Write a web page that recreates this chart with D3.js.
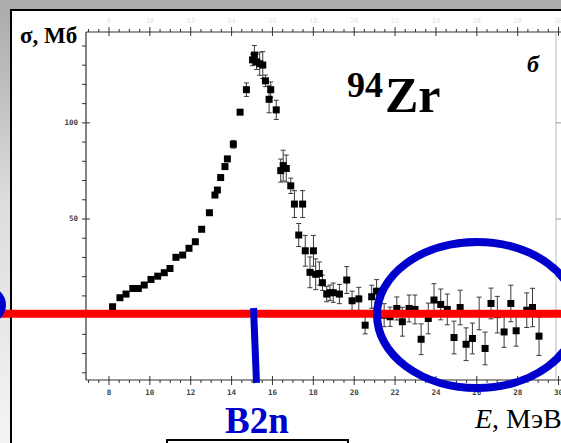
<!DOCTYPE html>
<html>
<head>
<meta charset="utf-8">
<script src="https://cdn.jsdelivr.net/npm/d3@7"></script>
<style>
  html, body { margin: 0; padding: 0; }
  body { width: 561px; height: 443px; overflow: hidden; }
  svg { display: block; }
</style>
</head>
<body>
<svg id="chart" width="561" height="443"></svg>
<script>
// Photoneutron cross section, 94Zr: energy (MeV), sigma (mb), error (mb)
const energy = [
  8.20, 8.56, 8.86, 9.19, 9.46, 9.75, 10.08, 10.41, 10.73, 11.01,
  11.30, 11.63, 11.94, 12.25, 12.56, 12.94, 13.21, 13.33, 13.49, 13.70,
  13.82, 14.11, 14.44, 14.75, 15.05, 15.14, 15.25, 15.40, 15.55, 15.68,
  15.86, 15.94, 16.21, 16.43, 16.55, 16.70, 16.92, 17.10, 17.31, 17.50,
  17.63, 17.86, 18.03, 18.14, 18.32, 18.47, 18.68, 18.84, 19.00, 19.30,
  19.66, 19.92, 20.25, 20.56, 20.88, 21.12, 21.49, 21.78, 22.11, 22.38,
  22.71, 23.00, 23.30, 23.65, 23.93, 24.26, 24.58, 24.91, 25.21, 25.50,
  25.81, 26.14, 26.43, 26.72, 27.03, 27.36, 27.69, 27.95, 28.47, 28.75,
  29.07
];
const sigma = [
  4.1, 8.8, 10.7, 13.6, 13.6, 15.4, 18.3, 20.0, 21.8, 24.0,
  29.8, 31.0, 34.5, 37.9, 44.4, 53.0, 62.2, 64.8, 71.3, 77.0,
  81.0, 88.6, 105.3, 117.0, 132.5, 135.0, 131.5, 130.5, 129.8, 121.6,
  112.0, 117.0, 106.5, 74.9, 77.5, 76.0, 67.0, 57.5, 41.4, 57.5,
  33.2, 22.0, 33.2, 21.0, 21.4, 16.6, 10.7, 11.4, 11.4, 10.7,
  18.0, 7.2, 8.2, -5.5, 9.3, 12.2, -0.3, -1.1, 3.2, -3.7,
  3.2, 2.7, -12.8, -2.0, 7.6, 5.3, 2.7, -11.9, 3.7, -15.4,
  -12.4, 0.6, -17.6, 5.8, 0.0, -9.0, 5.8, -8.4, 2.3, 3.7,
  -11.2
];
const sigmaErr = [
  0, 0, 0, 0, 0, 0, 0, 0, 0, 0,
  0, 0, 0, 0, 0, 1, 0, 0, 0, 1,
  1, 2, 1, 3.5, 3, 5, 4, 6, 7, 3,
  7, 4, 5, 6, 8, 7, 4, 7, 6, 7,
  8, 8, 8, 8, 6, 4, 4, 4, 5, 5,
  7, 5, 6, 4.5, 6, 6, 6, 5, 6, 7.5,
  7, 7.5, 8, 8, 8.5, 8, 8, 8.5, 9, 8.5,
  8, 8.5, 8.5, 8, 9.5, 8, 9.5, 8, 9, 10,
  10
];
const xTickValues = [8, 10, 12, 14, 16, 18, 20, 22, 24, 26, 28, 30];
const yTickValues = [50, 100];

const svg = d3.select("#chart");
const W = 561, H = 443;

// page background: grey frame with a white panel
const defs = svg.append("defs");
const grad = defs.append("linearGradient").attr("id", "bg")
  .attr("x1", 0).attr("y1", 0).attr("x2", 0).attr("y2", 1);
grad.append("stop").attr("offset", "0%").attr("stop-color", "#a9a9a9");
grad.append("stop").attr("offset", "45%").attr("stop-color", "#dcdcdc");
grad.append("stop").attr("offset", "100%").attr("stop-color", "#f4f4f4");
svg.append("rect").attr("width", W).attr("height", H).attr("fill", "url(#bg)");
svg.append("rect").attr("x", 0).attr("y", 0).attr("width", W).attr("height", 10).attr("fill", "#acacac");
svg.append("rect").attr("x", 11).attr("y", 10).attr("width", W).attr("height", H)
  .attr("fill", "#fff").attr("stroke", "#000").attr("stroke-width", 2);

// plot area
const pLeft = 86, pRight = 556, pTop = 32, pBottom = 380;
const x = d3.scaleLinear().domain([6.9, 29.9]).range([pLeft, pRight]);
const y = d3.scaleLinear().domain([-34, 147]).range([pBottom, pTop]);

const axisColor = "#333";
const g = svg.append("g");

// frame lines
g.append("line").attr("x1", pLeft).attr("x2", pLeft).attr("y1", pTop).attr("y2", pBottom)
  .attr("stroke", axisColor).attr("stroke-width", 1.2);
g.append("line").attr("x1", pLeft).attr("x2", W).attr("y1", pBottom).attr("y2", pBottom)
  .attr("stroke", axisColor).attr("stroke-width", 1.2);
g.append("line").attr("x1", pLeft).attr("x2", W).attr("y1", pTop).attr("y2", pTop)
  .attr("stroke", axisColor).attr("stroke-width", 1.2);
g.append("line").attr("x1", pRight).attr("x2", pRight).attr("y1", pTop).attr("y2", pBottom)
  .attr("stroke", "#bbb").attr("stroke-width", 1);

// bottom axis
const minorX = d3.range(7, 30.01, 0.5).filter(v => !xTickValues.includes(v));
const bAx = g.append("g").attr("transform", `translate(0,${pBottom})`)
  .call(d3.axisBottom(x).tickValues(xTickValues).tickSize(5).tickPadding(5).tickFormat(d3.format("d")));
bAx.select(".domain").remove();
bAx.selectAll(".tick line").attr("y1", -4).attr("stroke", axisColor);
bAx.selectAll(".tick text").attr("font-family", "DejaVu Sans Mono, monospace")
  .attr("font-size", 7.5).attr("fill", "#444").attr("font-weight", "bold");
const bMin = g.append("g").attr("transform", `translate(0,${pBottom})`)
  .call(d3.axisBottom(x).tickValues(minorX).tickSize(3).tickFormat(""));
bMin.select(".domain").remove();
bMin.selectAll(".tick line").attr("stroke", axisColor);

// top axis
const tAx = g.append("g").attr("transform", `translate(0,${pTop})`)
  .call(d3.axisTop(x).tickValues(xTickValues).tickSize(5).tickPadding(4).tickFormat(d3.format("d")));
tAx.select(".domain").remove();
tAx.selectAll(".tick line").attr("y1", 4).attr("stroke", axisColor);
tAx.selectAll(".tick text").attr("font-family", "DejaVu Sans Mono, monospace")
  .attr("font-size", 7).attr("fill", "#e2e2e2");
const tMin = g.append("g").attr("transform", `translate(0,${pTop})`)
  .call(d3.axisTop(x).tickValues(minorX).tickSize(3).tickFormat(""));
tMin.select(".domain").remove();
tMin.selectAll(".tick line").attr("stroke", axisColor);

// left axis
const minorY = d3.range(-30, 141, 10).filter(v => !yTickValues.includes(v));
const lAx = g.append("g").attr("transform", `translate(${pLeft},0)`)
  .call(d3.axisLeft(y).tickValues(yTickValues).tickSize(4).tickPadding(4).tickFormat(d3.format("d")));
lAx.select(".domain").remove();
lAx.selectAll(".tick line").attr("x1", 4).attr("stroke", axisColor);
lAx.selectAll(".tick text").attr("font-family", "DejaVu Sans Mono, monospace")
  .attr("font-size", 7.5).attr("fill", "#444").attr("font-weight", "bold");
const lMin = g.append("g").attr("transform", `translate(${pLeft},0)`)
  .call(d3.axisLeft(y).tickValues(minorY).tickSize(4).tickFormat(""));
lMin.select(".domain").remove();
lMin.selectAll(".tick line").attr("stroke", axisColor);

// right axis ticks
const rAx = g.append("g").attr("transform", `translate(${pRight},0)`)
  .call(d3.axisRight(y).tickValues(yTickValues).tickSize(5).tickFormat(""));
rAx.select(".domain").remove();
rAx.selectAll(".tick line").attr("stroke", "#999");

// data
const pts = energy.map((e, i) => ({ e, s: sigma[i], err: sigmaErr[i] }));
const eb = g.append("g").attr("stroke", "#3a3a3a").attr("stroke-width", 1);
pts.filter(d => d.err > 0).forEach(d => {
  const cx = x(d.e), y1 = y(d.s + d.err), y2 = y(d.s - d.err);
  eb.append("line").attr("x1", cx).attr("x2", cx).attr("y1", y1).attr("y2", y2);
  eb.append("line").attr("x1", cx - 2.5).attr("x2", cx + 2.5).attr("y1", y1).attr("y2", y1);
  eb.append("line").attr("x1", cx - 2.5).attr("x2", cx + 2.5).attr("y1", y2).attr("y2", y2);
});
const ms = 7;
g.append("g").selectAll("rect").data(pts).join("rect")
  .attr("x", d => x(d.e) - ms / 2).attr("y", d => y(d.s) - ms / 2)
  .attr("width", ms).attr("height", ms).attr("fill", "#000");

// labels
const serif = "Liberation Serif, Times New Roman, serif";
svg.append("text").attr("x", 20).attr("y", 43).attr("font-family", serif)
  .attr("font-size", 23).attr("font-weight", "bold").text("σ, Мб");
svg.append("text").attr("x", 347).attr("y", 97).attr("font-family", serif)
  .attr("font-size", 36).attr("font-weight", "bold").text("94");
svg.append("text").attr("x", 385).attr("y", 112).attr("font-family", serif)
  .attr("font-size", 50).attr("font-weight", "bold").text("Zr");
svg.append("text").attr("x", 527).attr("y", 72).attr("font-family", serif)
  .attr("font-size", 24).attr("font-weight", "bold").attr("font-style", "italic").text("б");
const xl = svg.append("text").attr("x", 475).attr("y", 428).attr("font-family", serif)
  .attr("font-size", 28);
xl.append("tspan").attr("font-style", "italic").text("E");
xl.append("tspan").text(", МэВ");

// annotations
const blue = "#0000cc";
svg.append("line").attr("x1", 0).attr("x2", W).attr("y1", y(0) - 1).attr("y2", y(0) - 1)
  .attr("stroke", "#ff0000").attr("stroke-width", 8);
svg.append("line").attr("x1", 253.5).attr("y1", 308).attr("x2", 256.5).attr("y2", 383)
  .attr("stroke", blue).attr("stroke-width", 7);
svg.append("ellipse").attr("cx", 477).attr("cy", 315).attr("rx", 100).attr("ry", 73)
  .attr("fill", "none").attr("stroke", blue).attr("stroke-width", 8);
svg.append("ellipse").attr("cx", -40).attr("cy", 305).attr("rx", 43).attr("ry", 24)
  .attr("fill", "none").attr("stroke", blue).attr("stroke-width", 6);
svg.append("text").attr("x", 225).attr("y", 433).attr("font-family", serif)
  .attr("font-size", 37).attr("font-weight", "bold").attr("fill", blue).text("B2n");
svg.append("path").attr("d", "M167,450 V440 H348 V450")
  .attr("fill", "none").attr("stroke", "#000").attr("stroke-width", 2);
</script>
</body>
</html>
